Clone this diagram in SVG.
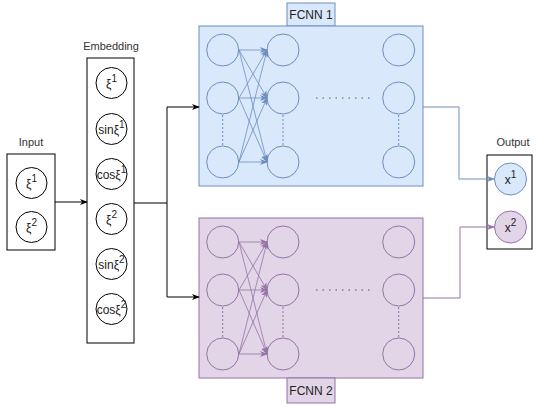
<svg xmlns="http://www.w3.org/2000/svg" width="536" height="407" viewBox="0 0 536 407">
<defs>
<style>
.t{font-family:"Liberation Sans",Arial,sans-serif;font-size:11px;fill:#333;text-anchor:middle}
.ct{font-family:"Liberation Sans",Arial,sans-serif;font-size:12px;fill:#222;text-anchor:middle}
.box{fill:#fff;stroke:#000;stroke-width:1}
.c{fill:#fff;stroke:#000;stroke-width:1}
.b{fill:#dae8fc;stroke:#6c8ebf;stroke-width:1}
.bc{fill:none;stroke:#6c8ebf;stroke-width:1}
.p{fill:#e1d5e7;stroke:#9673a6;stroke-width:1}
.pc{fill:none;stroke:#9673a6;stroke-width:1}
.bl{fill:none;stroke:#6c8ebf;stroke-width:0.8}
.pl{fill:none;stroke:#9673a6;stroke-width:0.8}
.bd{fill:none;stroke:#6c8ebf;stroke-width:1;stroke-dasharray:2 2}
.pd{fill:none;stroke:#9673a6;stroke-width:1;stroke-dasharray:2 2}
.bh{fill:none;stroke:#6c8ebf;stroke-width:1.5;stroke-dasharray:1.5 5}
.ph{fill:none;stroke:#9673a6;stroke-width:1.5;stroke-dasharray:1.5 5}
.k{fill:none;stroke:#000;stroke-width:1}
</style>
<marker id="ak" viewBox="0 0 10 10" refX="9" refY="5" markerWidth="8" markerHeight="8" markerUnits="userSpaceOnUse" orient="auto"><path d="M0,1 L10,5 L0,9 L3,5 Z" fill="#000"/></marker>
<marker id="ab" viewBox="0 0 10 10" refX="9" refY="5" markerWidth="8" markerHeight="8" markerUnits="userSpaceOnUse" orient="auto"><path d="M0,1 L10,5 L0,9 L3,5 Z" fill="#6c8ebf"/></marker>
<marker id="ap" viewBox="0 0 10 10" refX="9" refY="5" markerWidth="8" markerHeight="8" markerUnits="userSpaceOnUse" orient="auto"><path d="M0,1 L10,5 L0,9 L3,5 Z" fill="#9673a6"/></marker>
</defs>
<rect width="536" height="407" fill="#fff"/>

<g id="input">
<text class="t" x="31" y="146">Input</text>
<rect class="box" x="7" y="154" width="48" height="96"/>
<circle class="c" cx="31.5" cy="183" r="15.5"/>
<text class="ct" x="31.5" y="188">ξ<tspan font-size="10" dy="-6">1</tspan></text>
<circle class="c" cx="31.5" cy="227" r="15.5"/>
<text class="ct" x="31.5" y="232">ξ<tspan font-size="10" dy="-6">2</tspan></text>
</g>

<g id="embedding">
<text class="t" x="111" y="50">Embedding</text>
<rect class="box" x="87" y="58" width="47" height="285"/>
<circle class="c" cx="111.5" cy="83" r="15.5"/>
<text class="ct" x="111.5" y="88">ξ<tspan font-size="10" dy="-6">1</tspan></text>
<circle class="c" cx="111.5" cy="129" r="15.5"/>
<text class="ct" x="111.5" y="134" font-size="11">sinξ<tspan font-size="10" dy="-6">1</tspan></text>
<circle class="c" cx="111.5" cy="174" r="15.5"/>
<text class="ct" x="111.5" y="179" font-size="11">cosξ<tspan font-size="10" dy="-6">1</tspan></text>
<circle class="c" cx="111.5" cy="219" r="15.5"/>
<text class="ct" x="111.5" y="224">ξ<tspan font-size="10" dy="-6">2</tspan></text>
<circle class="c" cx="111.5" cy="264" r="15.5"/>
<text class="ct" x="111.5" y="269" font-size="11">sinξ<tspan font-size="10" dy="-6">2</tspan></text>
<circle class="c" cx="111.5" cy="309" r="15.5"/>
<text class="ct" x="111.5" y="314" font-size="11">cosξ<tspan font-size="10" dy="-6">2</tspan></text>
</g>

<g id="fcnn1">
<rect class="b" x="287" y="3" width="48" height="23"/>
<text class="ct" x="311" y="19">FCNN 1</text>
<rect class="b" x="199" y="26" width="224" height="160"/>
<circle class="bc" cx="222.7" cy="50" r="16"/>
<circle class="bc" cx="222.7" cy="98" r="16"/>
<circle class="bc" cx="222.7" cy="162" r="16"/>
<circle class="bc" cx="283" cy="50" r="16"/>
<circle class="bc" cx="283" cy="98" r="16"/>
<circle class="bc" cx="283" cy="162" r="16"/>
<circle class="bc" cx="398.7" cy="50" r="16"/>
<circle class="bc" cx="398.7" cy="98" r="16"/>
<circle class="bc" cx="398.7" cy="162" r="16"/>
<line class="bd" x1="222.7" y1="115" x2="222.7" y2="146"/>
<line class="bd" x1="283" y1="115" x2="283" y2="146"/>
<line class="bd" x1="398.7" y1="115" x2="398.7" y2="146"/>
<line class="bh" x1="316" y1="98" x2="370" y2="98"/>
<g marker-end="url(#ab)">
<line class="bl" x1="239" y1="50" x2="267" y2="50"/>
<line class="bl" x1="239" y1="50" x2="267" y2="98"/>
<line class="bl" x1="239" y1="50" x2="267" y2="162"/>
<line class="bl" x1="239" y1="98" x2="267" y2="50"/>
<line class="bl" x1="239" y1="98" x2="267" y2="98"/>
<line class="bl" x1="239" y1="98" x2="267" y2="162"/>
<line class="bl" x1="239" y1="162" x2="267" y2="50"/>
<line class="bl" x1="239" y1="162" x2="267" y2="98"/>
<line class="bl" x1="239" y1="162" x2="267" y2="162"/>
</g>
</g>

<g id="fcnn2">
<rect class="p" x="199" y="218" width="224" height="160"/>
<rect class="p" x="287" y="378" width="48" height="25"/>
<text class="ct" x="311" y="395">FCNN 2</text>
<circle class="pc" cx="222.7" cy="242" r="16"/>
<circle class="pc" cx="222.7" cy="290" r="16"/>
<circle class="pc" cx="222.7" cy="354" r="16"/>
<circle class="pc" cx="283" cy="242" r="16"/>
<circle class="pc" cx="283" cy="290" r="16"/>
<circle class="pc" cx="283" cy="354" r="16"/>
<circle class="pc" cx="398.7" cy="242" r="16"/>
<circle class="pc" cx="398.7" cy="290" r="16"/>
<circle class="pc" cx="398.7" cy="354" r="16"/>
<line class="pd" x1="222.7" y1="307" x2="222.7" y2="338"/>
<line class="pd" x1="283" y1="307" x2="283" y2="338"/>
<line class="pd" x1="398.7" y1="307" x2="398.7" y2="338"/>
<line class="ph" x1="316" y1="290" x2="370" y2="290"/>
<g marker-end="url(#ap)">
<line class="pl" x1="239" y1="242" x2="267" y2="242"/>
<line class="pl" x1="239" y1="242" x2="267" y2="290"/>
<line class="pl" x1="239" y1="242" x2="267" y2="354"/>
<line class="pl" x1="239" y1="290" x2="267" y2="242"/>
<line class="pl" x1="239" y1="290" x2="267" y2="290"/>
<line class="pl" x1="239" y1="290" x2="267" y2="354"/>
<line class="pl" x1="239" y1="354" x2="267" y2="242"/>
<line class="pl" x1="239" y1="354" x2="267" y2="290"/>
<line class="pl" x1="239" y1="354" x2="267" y2="354"/>
</g>
</g>

<g id="output">
<text class="t" x="513" y="146">Output</text>
<rect class="box" x="487" y="155" width="45" height="94"/>
<circle class="b" cx="510.5" cy="179" r="16"/>
<text class="ct" x="510.5" y="184">x<tspan font-size="10" dy="-6">1</tspan></text>
<circle class="p" cx="510.5" cy="227" r="16"/>
<text class="ct" x="510.5" y="232">x<tspan font-size="10" dy="-6">2</tspan></text>
</g>

<g id="connectors">
<line class="k" x1="55" y1="202" x2="87" y2="202" marker-end="url(#ak)"/>
<polyline class="k" points="134,203 167,203"/>
<polyline class="k" points="167,107 167,297"/>
<line class="k" x1="167" y1="107" x2="199" y2="107" marker-end="url(#ak)"/>
<line class="k" x1="167" y1="297" x2="199" y2="297" marker-end="url(#ak)"/>
<polyline fill="none" stroke="#6c8ebf" stroke-width="1" points="423,107 459,107 459,179 494,179" marker-end="url(#ab)"/>
<polyline fill="none" stroke="#9673a6" stroke-width="1" points="423,298 460,298 460,227 494,227" marker-end="url(#ap)"/>
</g>
</svg>
